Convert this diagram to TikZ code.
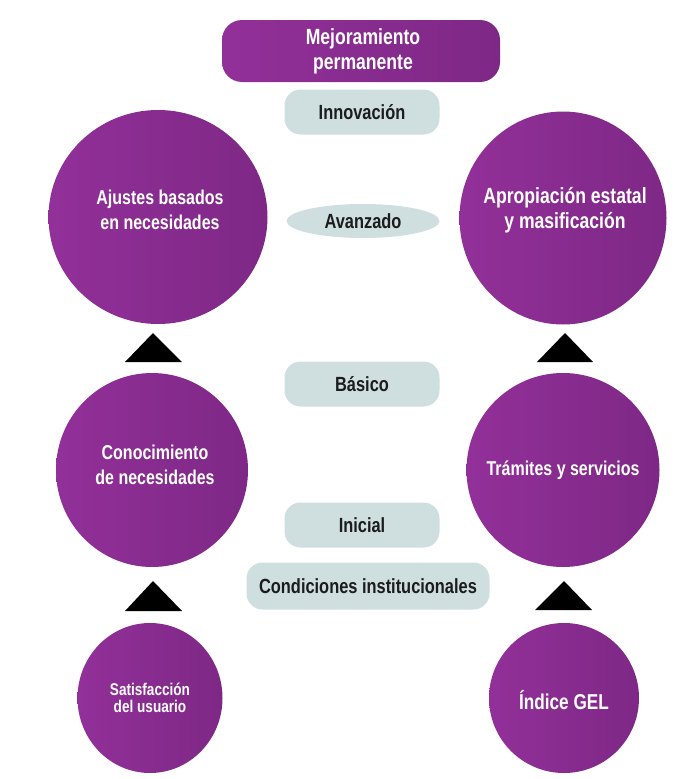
\documentclass[tikz,border=0pt]{standalone}
\usepackage{fontspec}
\setmainfont{Liberation Sans}[FakeStretch=0.8]
\usetikzlibrary{shapes.geometric}
\definecolor{purpL}{RGB}{146,48,153}
\definecolor{purpD}{RGB}{126,40,134}
\definecolor{grayb}{RGB}{207,223,224}
\definecolor{txtd}{RGB}{28,28,28}
\begin{document}
\begin{tikzpicture}[x=1pt,y=-1pt,
  blob/.style={ellipse, inner sep=0pt, left color=purpL, right color=purpD, draw=none},
  wtext/.style={text=white, align=center, inner sep=0pt, font=\bfseries\fontsize{20}{25}\selectfont},
  levelbox/.style={rectangle, rounded corners=16pt, fill=grayb, text=txtd, inner sep=0pt,
     font=\bfseries\fontsize{20.5}{24}\selectfont},
  levelell/.style={ellipse, fill=grayb, text=txtd, inner sep=0pt,
     font=\bfseries\fontsize{20.5}{24}\selectfont},
  tri/.style={fill=black}]
\useasboundingbox (0,0) rectangle (677,779);

% top box
\node[rectangle, rounded corners=20pt, left color=purpL, right color=purpD, minimum width=278pt, minimum height=62pt, inner sep=0pt] (top) at (361,51) {};
\node[wtext, font=\bfseries\fontsize{22}{25}\selectfont] (topt) at (363,51) {Mejoramiento\\permanente};

% level labels
\node[levelbox, minimum width=155pt, minimum height=45pt] (innov) at (362,112) {Innovación};
\node[levelell, minimum width=153pt, minimum height=34pt] (avanz) at (363,221) {Avanzado};
\node[levelbox, minimum width=155pt, minimum height=45pt] (basico) at (362,384) {Básico};
\node[levelbox, minimum width=155pt, minimum height=45pt] (inicial) at (362,525) {Inicial};
\node[levelbox, minimum width=243pt, minimum height=47pt] (cond) at (368,586) {Condiciones institucionales};

% circles
\node[blob, minimum width=219pt, minimum height=214pt] (c1) at (158,217) {};
\node[wtext] (c1t) at (160,210) {Ajustes basados\\en necesidades};
\node[blob, minimum width=207pt, minimum height=213pt] (c2) at (563,218) {};
\node[wtext, font=\bfseries\fontsize{22}{25}\selectfont] (c2t) at (565,210) {Apropiación estatal\\y masificación};

\node[blob, minimum width=192pt, minimum height=194pt] (c3) at (152,470) {};
\node[wtext] (c3t) at (155,465) {Conocimiento\\de necesidades};
\node[blob, minimum width=193pt, minimum height=194pt] (c4) at (563,470) {};
\node[wtext] (c4t) at (563,470) {Trámites y servicios};

\node[blob, minimum width=145pt, minimum height=150pt] (c5) at (150,698) {};
\node[wtext, font=\bfseries\fontsize{17}{17}\selectfont] (c5t) at (150,698) {Satisfacción\\del usuario};
\node[blob, minimum width=150pt, minimum height=150pt] (c6) at (564,698) {};
\node[wtext, font=\bfseries\fontsize{21.5}{25}\selectfont] (c6t) at (564,700) {Índice GEL};

% triangles
\fill[tri] (153,333) -- (182,362) -- (125,362) -- cycle;
\fill[tri] (565,333) -- (593,362) -- (537,362) -- cycle;
\fill[tri] (153,581) -- (182,611) -- (125,611) -- cycle;
\fill[tri] (564,581) -- (592,610) -- (535,610) -- cycle;
\end{tikzpicture}
\end{document}
